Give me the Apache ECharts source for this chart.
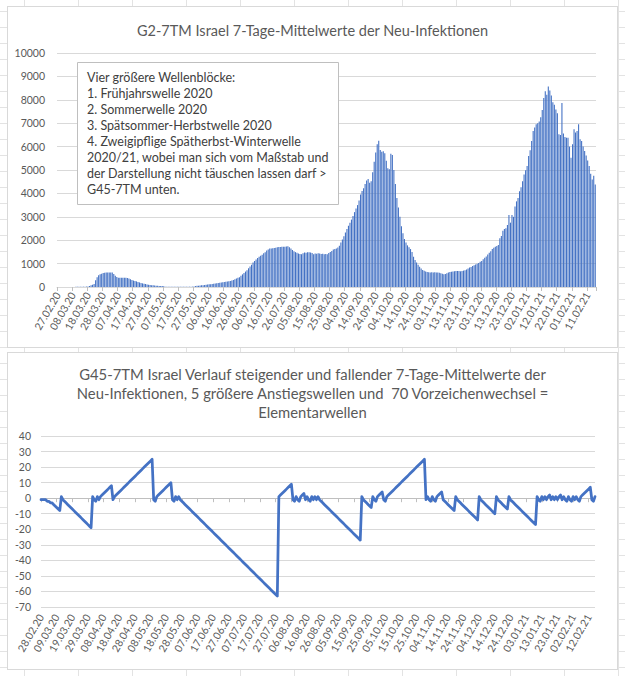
<!DOCTYPE html>
<html><head><meta charset="utf-8">
<script src="https://cdn.jsdelivr.net/npm/echarts/dist/echarts.min.js"></script>
<style>
html,body{margin:0;padding:0;}
body{width:625px;height:676px;overflow:hidden;position:relative;background-color:#fff;
background-image:linear-gradient(to right,#e3e3e3 1px,transparent 1px),linear-gradient(to bottom,#e3e3e3 1px,transparent 1px);
background-size:54px 16px;background-position:24px 11px;}
.box{position:absolute;background:#fff;border:1px solid #d9d9d9;box-sizing:border-box;}
#c1{left:7px;top:6px;width:611px;height:342px;}
#c2{left:7px;top:352px;width:611px;height:318px;}
</style></head>
<body>
<div id="c1" class="box"></div>
<div id="c2" class="box"></div>
<script>
// ---------- data ----------
const topTitle = 'G2-7TM Israel 7-Tage-Mittelwerte der Neu-Infektionen';
const bottomTitle = 'G45-7TM Israel Verlauf steigender und fallender 7-Tage-Mittelwerte der\nNeu-Infektionen, 5 größere Anstiegswellen und  70 Vorzeichenwechsel =\nElementarwellen';
const noteLines = [
  'Vier größere Wellenblöcke:',
  '1. Frühjahrswelle 2020',
  '2. Sommerwelle 2020',
  '3. Spätsommer-Herbstwelle 2020',
  '4. Zweigipflige Spätherbst-Winterwelle',
  '2020/21, wobei man sich vom Maßstab und',
  'der Darstellung nicht täuschen lassen darf >',
  'G45-7TM unten.'
];
const topStart = [2020, 2, 27];    // 27.02.20
const bottomStart = [2020, 2, 28]; // 28.02.20
const topTickLabels = ['27.02.20','08.03.20','18.03.20','28.03.20','07.04.20','17.04.20','27.04.20','07.05.20','17.05.20','27.05.20','06.06.20','16.06.20','26.06.20','06.07.20','16.07.20','26.07.20','05.08.20','15.08.20','25.08.20','04.09.20','14.09.20','24.09.20','04.10.20','14.10.20','24.10.20','03.11.20','13.11.20','23.11.20','03.12.20','13.12.20','23.12.20','02.01.21','12.01.21','22.01.21','01.02.21','11.02.21'];
const bottomTickLabels = ['28.02.20','09.03.20','19.03.20','29.03.20','08.04.20','18.04.20','28.04.20','08.05.20','18.05.20','28.05.20','07.06.20','17.06.20','27.06.20','07.07.20','17.07.20','27.07.20','06.08.20','16.08.20','26.08.20','05.09.20','15.09.20','25.09.20','05.10.20','15.10.20','25.10.20','04.11.20','14.11.20','24.11.20','04.12.20','14.12.20','24.12.20','03.01.21','13.01.21','23.01.21','02.02.21','12.02.21'];

// 7-Tage-Mittelwerte (one value per day from 27.02.20)
const topValues = [
  0,0,1,1,1,2,2,3,3,4,
  4,5,6,7,8,10,11,13,15,18,
  22,40,70,100,125,290,420,500,540,570,
  600,610,620,625,615,620,625,560,480,430,
  400,390,395,400,400,395,385,360,330,300,
  275,260,240,215,195,175,155,140,125,110,
  100,90,80,70,62,55,50,45,40,38,
  30,14,12,11,10,9,9,8,8,8,
  8,9,9,10,10,11,12,13,14,15,
  20,40,50,55,60,70,75,85,95,105,
  115,120,130,140,150,160,170,180,190,200,
  210,220,230,245,260,280,300,330,360,390,
  420,480,540,600,660,720,800,880,950,1050,
  1110,1180,1240,1290,1340,1380,1440,1490,1560,1600,
  1640,1650,1660,1665,1680,1700,1705,1710,1715,1720,
  1722,1730,1740,1700,1640,1580,1530,1490,1460,1430,
  1410,1400,1440,1470,1460,1480,1490,1470,1450,1400,
  1430,1420,1440,1430,1410,1420,1400,1410,1400,1450,
  1500,1540,1600,1620,1650,1690,1760,1900,2030,2170,
  2330,2480,2620,2750,2880,3030,3200,3350,3500,3700,
  3950,4100,4220,4400,4550,4620,4450,4520,4900,5350,
  5750,6100,6250,5850,5780,5800,5720,5400,5070,5030,
  5690,5640,5000,4400,3800,3400,3000,2600,2300,2050,
  1900,1780,1700,1620,1500,1290,1150,1050,950,870,
  790,730,690,660,645,635,625,630,625,630,
  625,620,605,590,570,545,560,590,620,640,
  655,665,670,680,685,680,670,680,700,720,
  750,790,830,860,900,930,960,990,1030,1080,
  1110,1190,1250,1300,1390,1460,1530,1620,1680,1720,
  1750,1790,2080,2180,2400,2480,2510,2650,3080,2750,
  3080,3000,3440,3660,3800,4090,4260,4520,4810,4990,
  5170,5600,5840,6240,6670,6820,6960,7000,7070,7250,
  7560,8080,8370,8220,8570,8400,8180,7890,7790,7590,
  7420,6530,6500,7860,6560,6410,6380,6380,6000,5520,
  6100,6740,6600,6670,6960,6310,6240,6000,5810,5620,
  5410,5170,4840,4590,4750,4380
];

// Verlauf steigender/fallender Werte (one value per day from 28.02.20)
const bottomValues = [
  -1,-1,-1,-1,-2,-2,-3,-3,-4,-5,
  -6,-7,-8,1,-1,-2,-3,-4,-5,-6,
  -7,-8,-9,-10,-11,-12,-13,-14,-15,-16,
  -17,-18,-19,1,-1,-2,1,-1,1,2,
  3,4,5,6,7,8,-1,1,2,3,
  4,5,6,7,8,9,10,11,12,13,
  14,15,16,17,18,19,20,21,22,23,
  24,25,-1,-2,1,2,3,4,5,6,
  7,8,9,10,-1,-2,1,-1,1,-1,
  -2,-3,-4,-5,-6,-7,-8,-9,-10,-11,
  -12,-13,-14,-15,-16,-17,-18,-19,-20,-21,
  -22,-23,-24,-25,-26,-27,-28,-29,-30,-31,
  -32,-33,-34,-35,-36,-37,-38,-39,-40,-41,
  -42,-43,-44,-45,-46,-47,-48,-49,-50,-51,
  -52,-53,-54,-55,-56,-57,-58,-59,-60,-61,
  -62,-63,1,2,3,4,5,6,7,8,
  9,-1,-2,1,-1,-2,1,2,3,-1,
  1,-1,-2,1,-1,1,-1,1,-1,-2,
  -3,-4,-5,-6,-7,-8,-9,-10,-11,-12,
  -13,-14,-15,-16,-17,-18,-19,-20,-21,-22,
  -23,-24,-25,-26,-27,1,-1,-2,-3,-4,
  -5,-6,1,-1,-2,1,2,3,4,-1,
  -2,1,2,3,4,5,6,7,8,9,
  10,11,12,13,14,15,16,17,18,19,
  20,21,22,23,24,25,-1,1,-1,-2,
  1,-1,-2,1,2,3,4,-1,-2,-3,
  -4,-5,-6,-7,-8,1,-1,-2,-3,-4,
  -5,-6,-7,-8,-9,-10,-11,-12,-13,-14,
  1,-1,-2,-3,-4,-5,-6,-7,-8,-9,
  -10,1,-1,-2,-3,-4,-5,-6,-7,1,
  -1,-2,-3,-4,-5,-6,-7,-8,-9,-10,
  -11,-12,-13,-14,-15,-16,-17,1,-1,-2,
  1,-1,1,-1,1,2,-1,1,-1,1,
  -1,1,2,-1,1,-1,-2,1,-1,-2,
  1,-1,1,-1,-2,1,2,3,4,5,
  6,7,-1,-2,1
];

// ---------- helpers ----------
function dayLabels(start, n) {
  const out = [];
  const d0 = Date.UTC(start[0], start[1] - 1, start[2]);
  for (let i = 0; i < n; i++) {
    const d = new Date(d0 + i * 86400000);
    const dd = String(d.getUTCDate()).padStart(2, '0');
    const mm = String(d.getUTCMonth() + 1).padStart(2, '0');
    const yy = String(d.getUTCFullYear()).slice(2);
    out.push(dd + '.' + mm + '.' + yy);
  }
  return out;
}
const topCats = dayLabels(topStart, topValues.length);
const bottomCats = dayLabels(bottomStart, bottomValues.length);

const FONT = 'Lato, "Open Sans", sans-serif';
const TXT = '#595959';
const GRID = '#d9d9d9';
const BLUE = '#4472C4';

// ---------- chart 1 ----------
const ch1 = echarts.init(document.getElementById('c1'), null, {renderer: 'svg'});
const noteGraphic = [{
  type: 'rect', z: 100,
  shape: {x: 69.5, y: 55.5, width: 261, height: 142},
  style: {fill: '#fff', stroke: '#bfbfbf', lineWidth: 1}
}];
noteLines.forEach((t, k) => {
  noteGraphic.push({
    type: 'text', z: 101, x: 79, y: 70 + 16 * k,
    style: {text: t, font: '12.5px ' + FONT, fill: '#404040', verticalAlign: 'middle', align: 'left'}
  });
});
ch1.setOption({
  animation: false,
  textStyle: {fontFamily: FONT},
  title: {text: topTitle, left: 'center', top: 11,
    textStyle: {fontFamily: FONT, fontSize: 14.5, fontWeight: 'normal', color: TXT}},
  grid: {left: 49, right: 21, top: 46, bottom: 60},
  xAxis: {
    type: 'category', data: topCats, boundaryGap: true,
    axisLine: {lineStyle: {color: GRID}},
    axisTick: {show: true, interval: 9, length: 4, lineStyle: {color: '#bfbfbf'}},
    axisLabel: {interval: 9, rotate: 60, margin: 6, fontSize: 10.5, color: TXT, fontFamily: FONT,
      formatter: (v, i) => topTickLabels[Math.round(i / 10)] || v}
  },
  yAxis: {
    type: 'value', min: 0, max: 10000, interval: 1000,
    axisLine: {show: false}, axisTick: {show: false},
    axisLabel: {fontSize: 10.5, color: TXT, margin: 12, fontFamily: FONT, formatter: v => String(v)},
    splitLine: {lineStyle: {color: GRID}}
  },
  series: [{
    type: 'bar', data: topValues, barCategoryGap: '28%',
    itemStyle: {color: BLUE}, silent: true
  }],
  graphic: noteGraphic
});

// ---------- chart 2 ----------
const ch2 = echarts.init(document.getElementById('c2'), null, {renderer: 'svg'});
ch2.setOption({
  animation: false,
  textStyle: {fontFamily: FONT},
  title: {text: bottomTitle, left: 'center', top: 6,
    textStyle: {fontFamily: FONT, fontSize: 14.8, fontWeight: 'normal', color: TXT, lineHeight: 19}},
  grid: {left: 33, right: 22, top: 83, bottom: 62},
  xAxis: [{
    type: 'category', data: bottomCats, boundaryGap: false, position: 'bottom',
    axisLine: {show: false, onZero: false}, axisTick: {show: false},
    axisLabel: {interval: 9, rotate: 60, margin: 8, fontSize: 10.5, color: TXT, fontFamily: FONT,
      formatter: (v, i) => bottomTickLabels[Math.round(i / 10)] || v}
  }, {
    type: 'category', data: bottomCats, boundaryGap: false, position: 'bottom',
    axisLine: {show: true, onZero: true, lineStyle: {color: '#bfbfbf'}},
    axisTick: {show: true, interval: 9, length: 4, lineStyle: {color: '#bfbfbf'}},
    axisLabel: {show: false}
  }],
  yAxis: {
    type: 'value', min: -70, max: 40, interval: 10,
    axisLine: {show: false}, axisTick: {show: false},
    axisLabel: {fontSize: 10.5, color: TXT, margin: 10, fontFamily: FONT, formatter: v => String(v)},
    splitLine: {lineStyle: {color: GRID}}
  },
  series: [{
    type: 'line', data: bottomValues, xAxisIndex: 0, showSymbol: false, symbol: 'none',
    lineStyle: {color: BLUE, width: 2.75, join: 'round', cap: 'round'}, silent: true
  }]
});
</script>
</body></html>
